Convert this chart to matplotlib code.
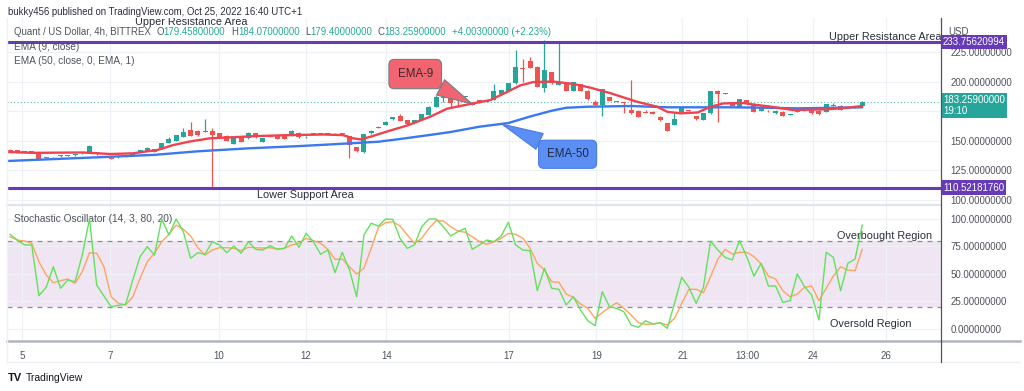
import matplotlib
matplotlib.use('Agg')
import matplotlib.pyplot as plt
from matplotlib.lines import Line2D
import numpy as np

plt.rcParams['font.family'] = ['Liberation Sans', 'DejaVu Sans']

# 4h candles, QNT/USD (bar index 0..118)
opens = [142.6, 142.0, 140.6, 140.5, 140.2, 136.2, 136.0, 137.0, 137.6, 137.8,
         139.5, 140.6, 140.3, 136.8, 135.6, 136.0, 136.6, 138.0, 140.0, 141.7,
         140.8, 143.4, 148.0, 149.9, 153.5, 159.2, 158.6, 157.6, 158.6, 156.4,
         154.1, 147.3, 153.0, 152.2, 156.4, 149.3, 153.8, 154.7, 154.5, 154.1,
         156.9, 153.0, 155.6, 156.0, 156.2, 156.2, 155.6, 154.1, 144.5, 140.3,
         156.4, 161.4, 163.4, 168.2, 171.0, 167.6, 164.8, 167.6, 171.9, 178.9,
         186.0, 187.3, 184.5, 187.3, 182.3, 184.3, 182.9, 184.5, 190.0, 192.4,
         198.6, 211.6, 217.5, 212.7, 194.4, 208.0, 197.6, 198.6, 192.2, 198.0,
         192.4, 183.1, 180.3, 186.8, 183.4, 182.4, 176.0, 175.5, 174.7, 174.6,
         170.4, 164.8, 163.4, 174.6, 175.8, 171.0, 167.6, 173.3, 192.4, 189.8,
         182.6, 178.9, 184.5, 180.9, 175.5, 175.4, 173.3, 174.6, 171.8, 174.6,
         178.0, 176.7, 175.5, 174.6, 179.8, 179.5, 177.6, 179.5, 179.458]
highs = [143.2, 142.6, 141.4, 141.0, 140.6, 136.5, 136.6, 138.4, 138.2, 138.9,
         141.0, 146.2, 140.8, 137.6, 136.0, 137.0, 137.6, 138.8, 142.6, 145.0,
         143.4, 148.6, 153.5, 155.2, 161.0, 166.0, 159.0, 168.2, 160.6, 157.0,
         154.6, 153.5, 153.5, 157.6, 156.8, 152.5, 154.2, 155.0, 154.9, 158.9,
         157.3, 154.0, 156.5, 156.4, 156.6, 156.6, 156.6, 154.5, 145.0, 156.0,
         159.0, 162.2, 166.4, 170.6, 172.5, 168.0, 167.8, 172.6, 179.1, 188.6,
         188.5, 187.6, 185.0, 188.0, 182.6, 184.6, 184.8, 198.0, 193.2, 198.8,
         226.8, 219.0, 221.0, 213.0, 235.0, 208.4, 234.5, 199.0, 200.2, 198.4,
         192.8, 184.8, 193.8, 187.2, 183.8, 182.8, 201.4, 175.8, 176.0, 175.0,
         170.8, 165.2, 174.0, 178.6, 176.2, 171.4, 173.5, 192.6, 192.8, 190.5,
         183.0, 185.8, 184.8, 181.2, 179.1, 175.8, 175.7, 175.0, 172.4, 178.2,
         178.4, 177.0, 175.8, 181.1, 182.0, 180.5, 178.2, 179.9, 184.07]
lows = [141.2, 140.6, 140.2, 140.0, 134.0, 135.4, 135.6, 136.8, 137.3, 137.5,
        139.2, 140.3, 138.2, 136.5, 134.6, 135.8, 136.4, 137.8, 139.8, 141.5,
        140.5, 143.2, 147.8, 149.7, 153.3, 153.8, 154.4, 157.3, 110.1, 153.2,
        149.8, 147.0, 149.0, 152.0, 152.7, 149.0, 153.2, 151.6, 151.8, 153.9,
        152.8, 152.8, 155.4, 155.6, 155.8, 154.8, 155.4, 135.2, 141.0, 140.0,
        156.2, 160.8, 163.2, 168.0, 166.8, 163.8, 164.6, 167.4, 171.7, 178.7,
        183.0, 178.9, 178.9, 187.0, 180.0, 182.4, 182.7, 184.3, 189.8, 192.2,
        198.4, 200.0, 211.6, 195.6, 191.0, 198.4, 197.4, 191.9, 192.0, 192.2,
        184.9, 180.0, 171.0, 183.7, 182.8, 174.0, 173.0, 170.2, 173.8, 172.5,
        166.6, 158.1, 163.2, 174.4, 175.2, 168.0, 167.4, 173.1, 166.2, 189.6,
        179.5, 178.7, 181.5, 174.4, 175.3, 174.6, 173.1, 171.1, 171.6, 174.4,
        175.6, 173.1, 172.2, 174.4, 179.6, 175.8, 177.4, 177.8, 179.40]
closes = [141.6, 140.9, 141.1, 140.7, 134.6, 135.7, 136.3, 138.0, 137.9, 138.6,
          140.7, 145.6, 138.6, 137.4, 135.0, 136.8, 137.4, 138.5, 142.3, 143.7,
          143.1, 148.4, 151.3, 154.9, 157.7, 154.1, 154.7, 158.0, 155.2, 153.5,
          150.1, 153.0, 149.3, 156.4, 153.0, 152.2, 153.5, 151.8, 152.0, 158.6,
          153.0, 153.7, 156.0, 156.2, 156.0, 155.0, 156.3, 146.5, 141.4, 155.8,
          158.6, 161.0, 166.2, 170.4, 167.0, 164.0, 167.6, 172.4, 178.9, 187.3,
          186.4, 181.7, 184.2, 187.7, 180.3, 182.6, 184.6, 192.1, 193.0, 198.6,
          212.7, 211.0, 211.8, 195.8, 209.9, 198.6, 199.8, 192.1, 200.0, 192.4,
          185.1, 180.3, 193.6, 183.9, 183.0, 182.0, 173.3, 170.4, 174.0, 172.7,
          167.6, 158.3, 168.2, 178.4, 175.4, 168.2, 173.3, 192.4, 189.6, 190.2,
          179.7, 185.6, 181.7, 174.6, 178.9, 174.9, 175.5, 171.3, 172.1, 178.0,
          175.8, 173.3, 172.4, 180.9, 180.1, 176.0, 177.9, 178.0, 183.259]

# moving averages (bar index, price)
ema9_x = [-0.4, 3.2, 10.1, 13.9, 17, 20.4, 22.6, 24.9, 27.7, 30.5, 34.2, 38.8, 43.4,
          46.1, 47.5, 48.5, 49.9, 52.6, 55, 58.2, 60.5, 64.1, 66.5, 68.8, 70.6, 72.4,
          75.2, 78, 80.3, 83.1, 86.8, 89.6, 91, 92.8, 95.2, 97, 98.8, 101.5, 103.5,
          105.3, 108.4, 113.2, 115.9, 118]
ema9 = [140.6, 139.9, 140.2, 138.9, 139.5, 142.3, 146.5, 149.5, 152.2, 153.0, 154.1,
        154.9, 155.4, 154.9, 152.2, 151.3, 153.5, 158.7, 163.0, 170.5, 177.2, 181.7,
        184.5, 191.3, 196.8, 199.7, 200.2, 198.1, 195.1, 190.4, 183.1, 178.9, 174.6,
        173.3, 174.0, 178.9, 181.7, 182.0, 180.3, 179.0, 176.1, 176.7, 178.0, 179.5]
ema50_x = [-0.4, 12, 20, 26, 33, 40, 47, 51, 54, 58, 61, 65, 69, 72, 75, 77, 80, 86,
           91, 100, 105, 109, 118]
ema50 = [133.0, 136.1, 138.2, 141.2, 143.7, 145.6, 147.9, 149.3, 151.6, 154.9, 157.5,
         162.0, 165.1, 170.6, 175.5, 178.0, 178.9, 179.5, 178.4, 178.4, 178.0, 177.5, 178.4]

# stochastic (14, 3, 80, 20)
stoch_k = [86.0, 80.8, 76.3, 76.3, 30.0, 37.6, 56.4, 36.7, 44.3, 42.7,
           67.1, 100.0, 39.7, 29.7, 19.9, 21.2, 22.1, 44.3, 65.6, 74.7,
           67.1, 100.0, 85.4, 100.0, 88.4, 64.1, 69.2, 67.8, 79.3, 76.3,
           69.2, 75.3, 68.7, 79.3, 72.3, 71.7, 75.6, 72.3, 73.2, 84.5,
           74.2, 86.9, 79.3, 67.8, 71.7, 51.0, 69.6, 53.4, 29.0, 85.4,
           96.1, 93.6, 100.0, 99.7, 82.4, 73.2, 76.3, 93.0, 100.0, 100.0,
           93.0, 84.5, 88.4, 91.5, 72.3, 76.3, 80.8, 79.3, 84.5, 97.0,
           76.3, 71.7, 71.1, 34.5, 55.0, 36.7, 35.8, 21.5, 29.0, 16.9,
           7.1, 2.6, 33.6, 19.9, 18.4, 15.3, 3.2, 1.1, 7.1, 4.1,
           5.3, 0.2, 23.0, 46.8, 37.6, 23.0, 37.6, 79.9, 71.7, 65.0,
           62.6, 80.2, 65.6, 47.9, 59.5, 38.8, 38.8, 23.9, 25.4, 49.8,
           38.2, 30.6, 7.8, 69.6, 65.0, 34.5, 59.5, 63.5, 94.5]
stoch_d = [83.8, 80.8, 80.0, 77.8, 61.0, 48.9, 41.8, 43.7, 45.2, 41.3,
           51.9, 69.2, 68.7, 56.4, 29.0, 23.0, 21.5, 29.0, 45.8, 61.0,
           68.7, 79.3, 86.0, 94.5, 90.6, 84.5, 73.8, 67.1, 71.7, 73.8,
           73.8, 73.2, 71.1, 74.2, 73.8, 73.5, 73.8, 72.6, 73.2, 76.3,
           77.8, 82.4, 80.2, 77.8, 72.3, 63.2, 63.5, 56.4, 49.8, 55.0,
           73.2, 92.4, 96.6, 97.5, 93.6, 85.4, 77.8, 82.4, 91.5, 98.4,
           98.2, 93.0, 89.0, 87.9, 83.8, 79.3, 76.9, 79.3, 82.4, 86.9,
           86.0, 82.4, 73.2, 59.5, 53.4, 42.7, 42.2, 31.5, 28.5, 22.4,
           18.4, 9.3, 14.5, 19.3, 23.6, 18.4, 12.3, 5.3, 3.8, 4.1,
           5.3, 3.2, 9.3, 23.0, 35.8, 35.8, 32.7, 47.3, 63.2, 72.3,
           68.0, 69.6, 69.6, 65.6, 58.9, 47.9, 45.2, 34.5, 29.0, 31.5,
           37.6, 38.8, 25.4, 36.7, 47.9, 56.4, 53.4, 52.8, 72.3]

tick_pos = [1.7, 13.9, 28.9, 41.0, 52.1, 69.1, 81.2, 93.1, 102.1, 111.2, 121.3]
tick_lab = ['5', '7', '10', '12', '14', '17', '19', '21', '13:00', '24', '26']

resistance = 233.75620994
support = 110.52181760
last_price = 183.259

TEAL = '#26a69a'
RED = '#ef5350'
PURPLE = '#673ab7'
GRID = '#eef1f6'
TXT = '#50535e'

W, H = 1024, 391
fig = plt.figure(figsize=(10.24, 3.91), dpi=100)


def fx(px):
    return px / W


def fy(py):
    return 1 - py / H


ax = fig.add_axes([fx(7), fy(205), (941 - 7) / W, (205 - 18) / H])
ax2 = fig.add_axes([fx(7), fy(341), (941 - 7) / W, (341 - 205) / H], sharex=ax)

# ---- price panel
x = np.arange(len(closes))
o = np.array(opens)
c = np.array(closes)
cols = np.where(c >= o, TEAL, RED)
ax.vlines(x, lows, highs, colors=cols, lw=0.9, zorder=3)
ax.bar(x, np.maximum(np.abs(c - o), 0.7), bottom=np.minimum(o, c), width=0.7,
       color=cols, lw=0, zorder=4)

ax.plot(ema50_x, ema50, color='#3a78f2', lw=1.7, zorder=5, solid_capstyle='round')
ax.plot(ema9_x, ema9, color='#f0424f', lw=1.7, zorder=5, solid_capstyle='round')

ax.axhline(resistance, color=PURPLE, lw=2.2, zorder=6)
ax.axhline(support, color=PURPLE, lw=2.2, zorder=6)
ax.axhline(last_price, color=TEAL, lw=0.8, ls=(0, (1, 2)), zorder=2, alpha=0.8)

ax.set_xlim(-0.42, 128.9)
ax.set_ylim(95.8, 253.9)
ax.set_yticks([100, 125, 150, 175, 200, 225])
ax.set_yticklabels(['%.8f' % v if v != 175 else '' for v in [100, 125, 150, 175, 200, 225]])
ax.set_xticks(tick_pos)
ax.grid(True, color=GRID, lw=0.9)
ax.set_axisbelow(True)
ax.yaxis.tick_right()
ax.tick_params(axis='y', length=0, pad=7, labelsize=7, labelcolor=TXT)
ax.tick_params(axis='x', length=0, labelbottom=False)
for s in ax.spines.values():
    s.set_visible(False)

# text labels on the chart
ax.text(17.3, 250.2, 'Upper Resistance Area', fontsize=7.8, color='#2a2e39',
        va='center', clip_on=True)
ax.text(113.4, 238.0, 'Upper Resistance Area', fontsize=7.8, color='#2a2e39',
        va='center', zorder=7)
ax.text(34.2, 104.3, 'Lower Support Area', fontsize=7.8, color='#2a2e39', va='center')

ax.annotate('EMA-9', xy=(64.0, 181.2), xytext=(56.1, 206.5), textcoords='data',
            fontsize=8.3, color='#3b2a2d', ha='center', va='center', zorder=8,
            bbox=dict(boxstyle='round,pad=0.75,rounding_size=0.45', fc='#f2646f',
                      ec='#6f8087', lw=0.8),
            arrowprops=dict(arrowstyle='wedge,tail_width=1.5,shrink_factor=0.5',
                            fc='#f2646f', ec='#6f8087', lw=0.8,
                            shrinkA=0, shrinkB=0))
ax.annotate('EMA-50', xy=(68.1, 164.2), xytext=(77.2, 138.7), textcoords='data',
            fontsize=8.3, color='#1f2a44', ha='center', va='center', zorder=8,
            bbox=dict(boxstyle='round,pad=0.7,rounding_size=0.45', fc='#5b8ff5',
                      ec='#4a7be0', lw=0.8),
            arrowprops=dict(arrowstyle='wedge,tail_width=1.5,shrink_factor=0.5',
                            fc='#5b8ff5', ec='#4a7be0', lw=0.8,
                            shrinkA=0, shrinkB=0))

# price-scale labels
ytr = ax.get_yaxis_transform()
ax.text(1.002, resistance, '%.8f' % resistance, transform=ytr, fontsize=7, color='white',
        va='center', ha='left', clip_on=False, zorder=9,
        bbox=dict(boxstyle='square,pad=0.22', fc=PURPLE, ec='none'))
ax.text(1.002, support, '%.8f' % support, transform=ytr, fontsize=7, color='white',
        va='center', ha='left', clip_on=False, zorder=9,
        bbox=dict(boxstyle='square,pad=0.22', fc=PURPLE, ec='none'))
ax.text(1.002, last_price - 3.2, '%.8f\n19:10' % last_price, transform=ytr, fontsize=7,
        color='white', va='center', ha='left', clip_on=False, zorder=9, linespacing=1.15,
        bbox=dict(boxstyle='square,pad=0.22', fc=TEAL, ec='none'))

# ---- stochastic panel
ax2.axhspan(20, 80, color='#efe5f3', lw=0, zorder=0)
ax2.axhline(80, color='#8a8d96', lw=0.9, ls=(0, (4, 4)), zorder=1)
ax2.axhline(20, color='#8a8d96', lw=0.9, ls=(0, (4, 4)), zorder=1)
ax2.plot(x, stoch_d, color='#ffa45e', lw=1.0, zorder=3)
ax2.plot(x, stoch_k, color='#62e25c', lw=1.0, zorder=4)
ax2.set_ylim(-11.4, 112.8)
ax2.set_yticks([0, 25, 50, 75, 100])
ax2.set_yticklabels(['%.8f' % v for v in [0, 25, 50, 75, 100]])
ax2.set_xticks(tick_pos)
ax2.set_xticklabels(tick_lab)
ax2.grid(True, color=GRID, lw=0.9)
ax2.set_axisbelow(True)
ax2.yaxis.tick_right()
ax2.tick_params(axis='y', length=0, pad=7, labelsize=7, labelcolor=TXT)
ax2.tick_params(axis='x', length=0, pad=7, labelsize=7, labelcolor=TXT)
for s in ax2.spines.values():
    s.set_visible(False)

ax2.text(0.007, 0.9, 'Stochastic Oscillator (14, 3, 80, 20)', transform=ax2.transAxes,
         fontsize=7.3, color=TXT, va='center')
ax2.text(114.5, 84.5, 'Overbought Region', fontsize=7.8, color='#2a2e39', va='center')
ax2.text(113.6, 4.1, 'Oversold Region', fontsize=7.8, color='#2a2e39', va='center')

# ---- frame lines
fig.add_artist(Line2D([fx(7), fx(941)], [fy(205), fy(205)], color='#e0e3eb', lw=1.5))
fig.add_artist(Line2D([fx(7), fx(1020)], [fy(341), fy(341)], color='#b2b5be', lw=1.8))
fig.add_artist(Line2D([fx(7), fx(1020)], [fy(362), fy(362)], color='#edf0f4', lw=1.0))
fig.add_artist(Line2D([fx(941), fx(941)], [fy(18), fy(362)], color='#50535e', lw=0.9))
fig.add_artist(Line2D([fx(7), fx(7)], [fy(18), fy(362)], color='#edf0f4', lw=1.0))

# ---- header / legend text
fig.text(fx(8), fy(12), 'bukky456 published on TradingView.com, Oct 25, 2022 16:40 UTC+1',
         fontsize=6.9, color='#2a2e39', va='center')

# OHLC line, laid out piece after piece
pieces = [('Quant / US Dollar, 4h, BITTREX', TXT, 0),
          ('O', TXT, 4), ('179.45800000', '#22ab94', 0),
          ('H', TXT, 4), ('184.07000000', '#22ab94', 0),
          ('L', TXT, 4), ('179.40000000', '#22ab94', 0),
          ('C', TXT, 4), ('183.25900000', '#22ab94', 0),
          ('+4.00300000 (+2.23%)', '#22ab94', 4)]
prev = fig.text(fx(14), fy(32), pieces[0][0], fontsize=6.9, color=pieces[0][1], va='center')
for txt, col, gap in pieces[1:]:
    prev = fig.add_artist(matplotlib.text.Annotation(
        txt, xy=(1, 0.5), xycoords=prev, xytext=(gap, 0), textcoords='offset points',
        fontsize=6.9, color=col, va='center', ha='left', annotation_clip=False))

fig.text(fx(14), fy(47), 'EMA (9, close)', fontsize=7.2, color=TXT, va='center')
fig.text(fx(14), fy(61), 'EMA (50, close, 0, EMA, 1)', fontsize=7.2, color=TXT, va='center')
fig.text(fx(948), fy(32), 'USD', fontsize=7, color=TXT, va='center')

fig.text(fx(8), fy(378), 'TV', fontsize=8, color='#131722', va='center', fontweight='bold')
fig.text(fx(26), fy(378), 'TradingView', fontsize=7.5, color='#131722', va='center')

fig.savefig('out.png', dpi=100)
